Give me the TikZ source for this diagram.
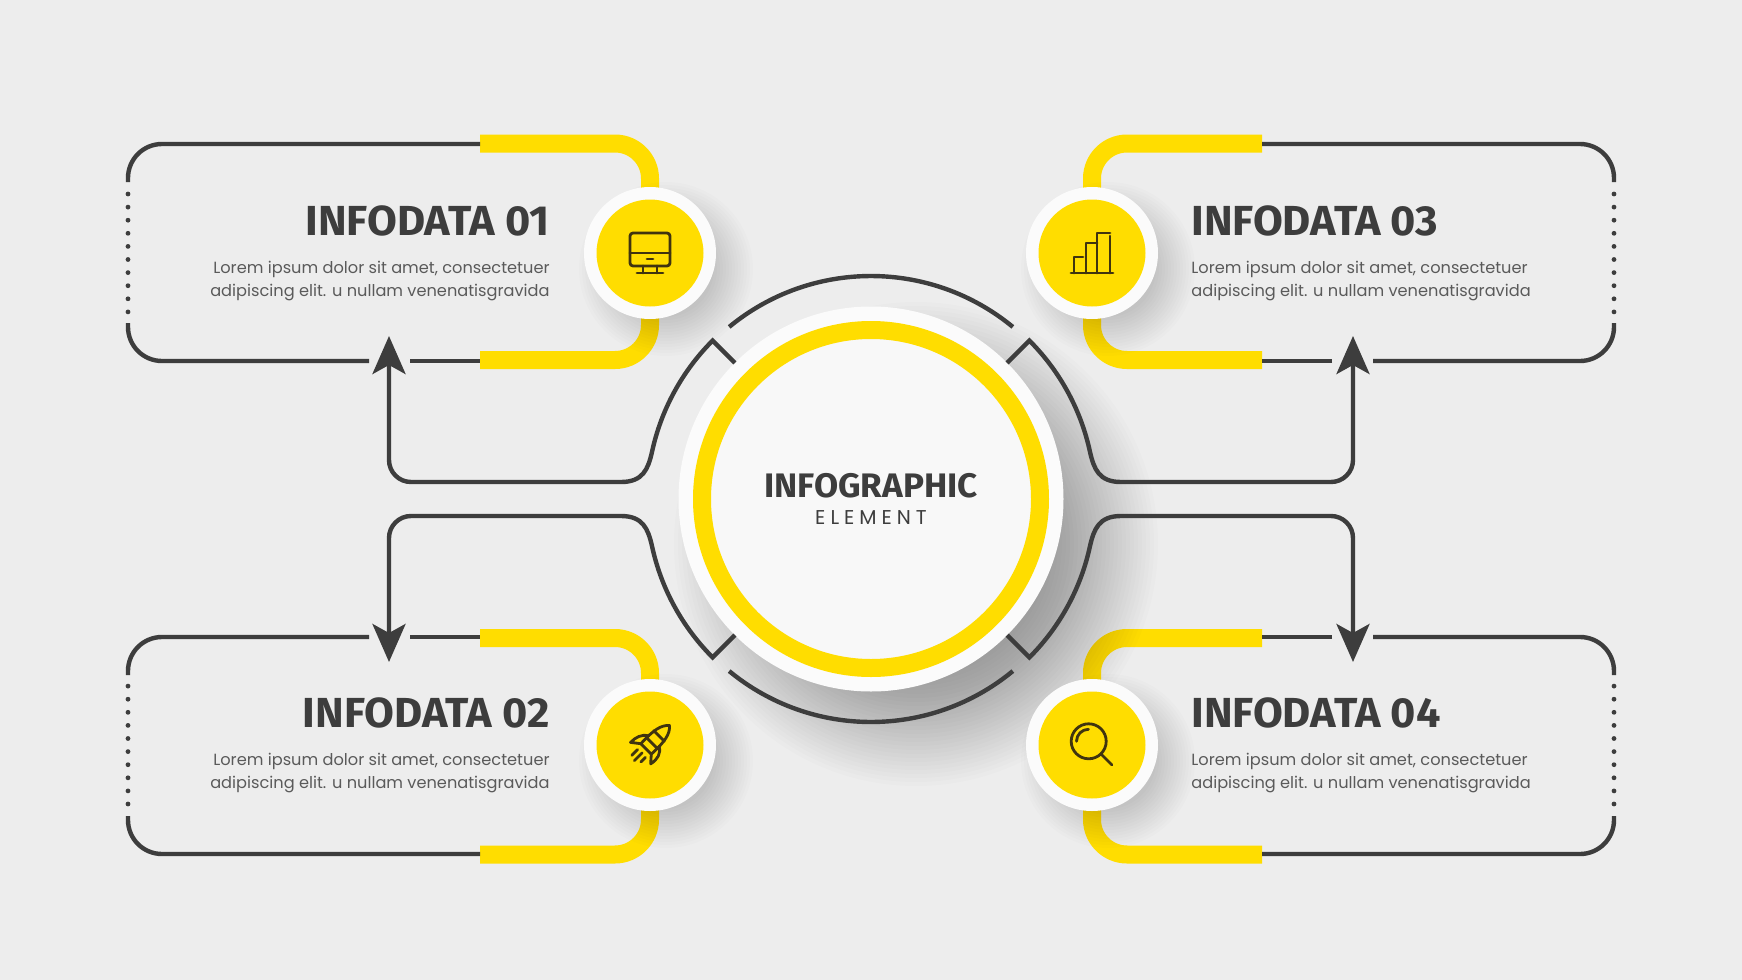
\documentclass[tikz,border=0pt]{standalone}
\usepackage{fontspec}
\setmainfont{Poppins}
\newfontfamily\headfont[FakeStretch=1.03]{Fira Sans}
\usetikzlibrary{arrows.meta}
\definecolor{pagegrey}{HTML}{EDEDED}
\definecolor{inkgrey}{HTML}{3D3D3D}
\definecolor{bodygrey}{HTML}{5A5A5A}
\definecolor{signyellow}{HTML}{FFDD00}
\definecolor{ringwhite}{HTML}{FBFBFB}
\definecolor{facewhite}{HTML}{F8F8F8}
\definecolor{icondark}{HTML}{40340F}
\tikzset{
  lineart/.style={draw=inkgrey, line width=2.2pt},
  yellowbar/.style={draw=signyellow, line width=9pt},
  hubdisc/.style={circle, fill=ringwhite, minimum size=192.5pt, inner sep=0pt, outer sep=0pt},
  hubface/.style={circle, draw=signyellow, line width=9pt, fill=facewhite, minimum size=169pt, inner sep=0pt, outer sep=0pt},
  iconring/.style={circle, fill=ringwhite, minimum size=66pt, inner sep=0pt, outer sep=0pt},
  iconcoin/.style={circle, fill=signyellow, minimum size=53.5pt, inner sep=0pt, outer sep=0pt},
  iconline/.style={draw=icondark, line width=1.4pt, line cap=round, line join=round},
  titletext/.style={text=inkgrey, font=\headfont\bfseries\fontsize{21}{24}\selectfont, inner sep=0pt},
  bodytext/.style={text=bodygrey, font=\fontsize{8.1}{11.35}\selectfont, inner sep=0pt},
}
\begin{document}
\begin{tikzpicture}[x=0.5pt, y=-0.5pt]
  \fill[pagegrey] (0,0) rectangle (1742,980);
  \coordinate (hubc) at (871,499);
  % one corner of the layout, mirrored four times
  \foreach \sx/\sy/\n in {1/1/1, 1/-1/2, -1/1/3, -1/-1/4} {
    \begin{scope}[shift={(hubc)}, xscale=\sx, yscale=\sy]
      \coordinate (port\n) at (-221,-246);
      \draw[yellowbar] (-391,-355.5) [rounded corners=17.5pt] -- (-221,-355.5) -- (port\n);
      \draw[yellowbar] (-391,-139) [rounded corners=17.5pt] -- (-221,-139) -- (port\n);
      \draw[lineart] (-391,-355) [rounded corners=17pt] -- (-743,-355) -- (-743,-317);
      \draw[lineart] (-743,-176) [rounded corners=17pt] -- (-743,-138) -- (-502,-138);
      \draw[lineart] (-461,-138) -- (-391,-138);
      \foreach \k in {0,...,9}
        \fill[inkgrey] (-743,-305+\k*13.1) circle (2.4);
    \end{scope}
  }
  % soft shadows
  \begin{scope}[shift={(hubc)}]
    \foreach \k in {1,...,28}
      \fill[black, opacity=0.011] (45,45) circle (130+\k*4);
  \end{scope}
  \foreach \px/\py in {650/253, 650/745, 1092/253, 1092/745} {
    \begin{scope}[shift={(\px,\py)}]
      \foreach \k in {1,...,14}
        \fill[black, opacity=0.012] (16,16) circle (45+\k*3);
    \end{scope}
  }
  \node[hubdisc] (hub) at (hubc) {};
  \node[hubface] (face) at (hubc) {};
  % connectors round the hub
  \foreach \sx/\sy/\n/\a in {1/1/1/135, 1/-1/2/225, -1/1/3/45, -1/-1/4/315} {
    \begin{scope}[shift={(hubc)}, xscale=\sx, yscale=\sy]
      \coordinate (tip\n) at (-482,-163);
      \draw[lineart, -{Stealth[length=19pt, width=16.5pt, inset=4.5pt]}] (hub.\a) -- (225:224)
        arc[start angle=225, end angle=192, radius=224]
        .. controls (-223,-30) and (-228,-17) .. (-250,-17)
        [rounded corners=11pt] -- (-482,-17) -- (tip\n);
    \end{scope}
  }
  \begin{scope}[shift={(hubc)}]
    \draw[lineart] (230.5:223) arc[start angle=230.5, end angle=309.5, radius=223];
    \draw[lineart] (50.5:223) arc[start angle=50.5, end angle=129.5, radius=223];
  \end{scope}
  % icon discs
  \node[iconring] (icon1) at (650,253) {};
  \node[iconring] (icon2) at (650,745) {};
  \node[iconring] (icon3) at (1092,253) {};
  \node[iconring] (icon4) at (1092,745) {};
  \foreach \n in {1,...,4}
    \node[iconcoin] (coin\n) at (icon\n) {};
  % monitor
  \begin{scope}[shift={(icon1)}]
    \draw[iconline, rounded corners=1.5pt] (-20,-20) rectangle (20,13);
    \draw[iconline] (-20,0) -- (20,0);
    \draw[iconline] (-3,6) -- (3,6);
    \draw[iconline] (-7,13) -- (-7,20);
    \draw[iconline] (7,13) -- (7,20);
    \draw[iconline] (-13,20) -- (13,20);
  \end{scope}
  % rocket
  \begin{scope}[shift={(icon2)}, rotate=-45, scale=0.92]
    \draw[iconline] (0,-30) .. controls (7,-24) and (9,-14) .. (8,6) -- (-8,6)
      .. controls (-9,-14) and (-7,-24) .. cycle;
    \draw[iconline] (-8,-14) -- (8,-14);
    \draw[iconline] (-8,-3) -- (8,-3);
    \draw[iconline] (-8,-6) .. controls (-15,-2) and (-17,5) .. (-17,13) -- (-8,6);
    \draw[iconline] (8,-6) .. controls (15,-2) and (17,5) .. (15,14) -- (8,6);
    \draw[iconline] (-6,13) -- (-6,22);
    \draw[iconline] (0,12) -- (0,24);
    \draw[iconline] (6,13) -- (6,20);
  \end{scope}
  % bars
  \begin{scope}[shift={(icon3)}]
    \draw[iconline] (-21,20) -- (21,20);
    \draw[iconline] (-18,20) -- (-18,4) -- (-9,4);
    \draw[iconline] (-6,20) -- (-6,-10) -- (5,-10);
    \draw[iconline] (5,20) -- (5,-20) -- (18,-20);
    \draw[iconline] (18,-17) -- (18,20);
  \end{scope}
  % magnifier
  \begin{scope}[shift={(icon4)}]
    \draw[iconline] (-3.3,-3.7) circle (17.5);
    \draw[iconline] (-15.5,-3.7) arc[start angle=180, end angle=270, radius=12];
    \draw[iconline] (9,9) -- (20,20);
  \end{scope}
  \node[text=inkgrey, font=\headfont\bfseries\fontsize{17}{20}\selectfont, inner sep=0pt, anchor=base] (maintitle) at (871,497) {INFOGRAPHIC};
  \node[text=inkgrey, font=\fontsize{10}{12}\selectfont\addfontfeature{LetterSpace=25}, inner sep=0pt, anchor=base] (subtitle) at (871,524) {ELEMENT};
  \node[titletext, anchor=base east] (title1) at (550,235) {INFODATA 01};
  \node[titletext, anchor=base east] (title2) at (550,727) {INFODATA 02};
  \node[titletext, anchor=base west] (title3) at (1191,235) {INFODATA 03};
  \node[titletext, anchor=base west] (title4) at (1191,727) {INFODATA 04};
  \node[bodytext, align=right, anchor=base east] (body1) at (550,296.5) {Lorem ipsum dolor sit amet, consectetuer\\adipiscing elit. u nullam venenatisgravida};
  \node[bodytext, align=right, anchor=base east] (body2) at (550,788.5) {Lorem ipsum dolor sit amet, consectetuer\\adipiscing elit. u nullam venenatisgravida};
  \node[bodytext, align=left, anchor=base west] (body3) at (1191,296.5) {Lorem ipsum dolor sit amet, consectetuer\\adipiscing elit. u nullam venenatisgravida};
  \node[bodytext, align=left, anchor=base west] (body4) at (1191,788.5) {Lorem ipsum dolor sit amet, consectetuer\\adipiscing elit. u nullam venenatisgravida};
\end{tikzpicture}
\end{document}
